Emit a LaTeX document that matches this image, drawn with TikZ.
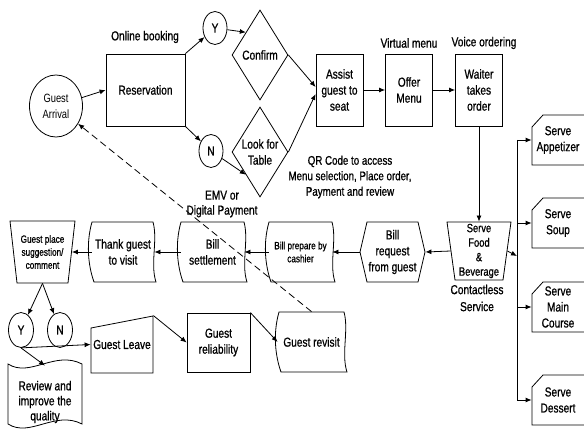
\documentclass[tikz,border=0pt]{standalone}
\usepackage{fontspec}
\setmainfont[FakeStretch=0.78,UprightFeatures={FakeBold=0.8}]{Liberation Sans}
\newfontfamily\thinfont[FakeStretch=0.78]{Liberation Sans}
\usetikzlibrary{arrows.meta,shapes.geometric,calc}
\newcommand\wavybox[4]{%
 \draw (#1,#2) -- (#3,#2) .. controls ({#3+5},{#2+0.3*(#4-#2)}) and ({#3-3},{#2+0.7*(#4-#2)}) .. ({#3+3},#4) -- ({#1+2},#4) .. controls ({#1-4},{#2+0.72*(#4-#2)}) and ({#1-6},{#2+0.35*(#4-#2)}) .. (#1,#2) -- cycle;}
\begin{document}
\begin{tikzpicture}[x=1pt,y=-1pt,line width=0.8pt,
  every node/.style={font=\fontsize{13}{16}\selectfont,align=center,inner sep=0pt},
  rbox/.style={draw,rectangle},
  yn/.style={draw,ellipse,minimum width=24,minimum height=33},
  small/.style={font=\fontsize{10.5}{13}\selectfont},
  arr/.style={-{Latex[length=6pt,width=5pt]}}]
\useasboundingbox (0,0) rectangle (584,435);
\fill[white] (0,0) rectangle (584,435);
% top row
\node[draw,ellipse,minimum width=53,minimum height=62,font=\thinfont\fontsize{12}{16}\selectfont] (arrival) at (56,106) {Guest\\Arrival};
\node[rbox,minimum width=79,minimum height=72] (res) at (145.5,90) {Reservation};
\node (online) at (145,37) {Online booking};
\node[yn] (y1) at (215,28) {Y};
\node[yn] (n1) at (211,151) {N};
\node[draw,diamond,minimum width=56,minimum height=90] (confirm) at (260,55) {};
\node (confirmtxt) at (260,55) {Confirm};
\node[draw,diamond,minimum width=56,minimum height=90] (look) at (260,152) {};
\node (looktxt) at (260,152) {Look for\\Table};
\node[rbox,minimum width=47,minimum height=72] (assist) at (339.5,90) {Assist\\guest to\\seat};
\node[rbox,minimum width=47,minimum height=72] (offer) at (409,90) {Offer\\Menu};
\node[rbox,minimum width=47,minimum height=72] (waiter) at (479,90) {Waiter\\takes\\order};
\node (vmenu) at (409,43) {Virtual menu};
\node (vorder) at (484,43) {Voice ordering};
\node[font=\fontsize{12.5}{15.5}\selectfont] (qr) at (350,177) {QR Code to access\\Menu selection, Place order,\\Payment and review};
% middle row
\draw (447,222) -- (511,222) -- (503,280) -- (455,280) -- cycle;
\node[minimum width=56,minimum height=58,font=\fontsize{12}{14.5}\selectfont] (food) at (479,251) {Serve\\Food\\\&\\Beverage};
\node[font=\fontsize{13}{17}\selectfont] (contact) at (477,298) {Contactless\\Service};
\draw (367,222) -- (418,222) -- (425,252) -- (418,282) -- (367,282) -- (360,252) -- cycle;
\node[minimum width=65,minimum height=60] (billreq) at (392.5,252) {Bill\\request\\from guest};
\wavybox{269}{222}{332}{282}
\node[small,minimum width=63,minimum height=60] (billprep) at (300.5,252) {Bill prepare by\\cashier};
\wavybox{181}{222}{244}{282}
\node[minimum width=63,minimum height=60] (billset) at (212.5,252) {Bill\\settlement};
\node[font=\fontsize{13}{15}\selectfont] (emv) at (222,204) {EMV or\\Digital Payment};
\wavybox{92}{222}{153}{282}
\node[minimum width=62,minimum height=60] (thank) at (123,252) {Thank guest\\to visit};
\draw (10,221) -- (75,221) -- (68,283) -- (17,283) -- cycle;
\node[small,minimum width=58,minimum height=62] (gplace) at (42.5,252) {Guest place\\suggestion/\\comment};
% bottom row
\node[yn,minimum width=25,minimum height=35] (y2) at (21,330) {Y};
\node[yn,minimum width=25,minimum height=35] (n2) at (60,330) {N};
\draw (91,328) -- (153,316) -- (153,373) -- (91,373) -- cycle;
\node[minimum width=62,minimum height=57] (leave) at (122,344.5) {Guest Leave};
\node[rbox,minimum width=63,minimum height=59] (rel) at (218.5,342.5) {Guest\\reliability};
\wavybox{279}{312}{344}{372}
\node[minimum width=67,minimum height=60] (revisit) at (311.5,342) {Guest revisit};
\draw (8,364) .. controls (30,378) and (55,350) .. (82,364) -- (82,424) .. controls (55,410) and (30,438) .. (8,424) -- cycle;
\node[minimum width=74,minimum height=72,font=\fontsize{13}{15}\selectfont] (review) at (45,402) {Review and\\improve the\\quality};
% serve boxes
\foreach \t/\b in {115/165,198/248,282/332,375/425}{
  \draw (584,\t) -- (543,\t) -- (532,{\t+12}) -- (532,\b) -- (584,\b);}
\node[minimum width=52,minimum height=50] (app) at (558,140) {Serve\\Appetizer};
\node[minimum width=52,minimum height=50] (soup) at (558,223) {Serve\\Soup};
\node[minimum width=52,minimum height=50] (main) at (558,307) {Serve\\Main\\Course};
\node[minimum width=52,minimum height=50] (dessert) at (558,400) {Serve\\Dessert};
\coordinate (va) at (517,140);
\coordinate (vb) at (517,223);
\coordinate (vc) at (517,307);
\coordinate (vd) at (517,400);
\coordinate (vj) at (517,256);
% connectors
\draw[arr] (arrival) -- (res.west);
\draw[arr] (res.north east) -- (y1);
\draw[arr] (res.south east) -- (n1);
\draw[arr] (y1) -- (confirm.north west);
\draw[arr] (n1) -- (look.south west);
\draw[arr] (confirm.east) -- ([yshift=3pt]assist.west);
\draw[arr] (look.east) -- ([yshift=-4pt]assist.west);
\draw[arr] (assist) -- (offer);
\draw[arr] (offer) -- (waiter);
\draw[arr] (waiter.south) -- (food.north);
\draw[arr] (food.west) -- (billreq.east);
\draw[arr] (billreq.west) -- (billprep.east);
\draw[arr] (billprep.west) -- (billset.east);
\draw[arr] (billset.west) -- (thank.east);
\draw[arr] (thank.west) -- (gplace.east);
\draw[arr] (gplace.south) -- (y2);
\draw[arr] (gplace.south) -- (n2);
\draw[arr] (y2.south) -- (leave.west);
\draw[arr] (y2.south) -- (review.north);
\draw[arr] (leave.north east) -- (rel.west);
\draw[arr] (rel.north east) -- (revisit.west);
\draw[arr,dash pattern=on 7pt off 4pt] (revisit.north) -- (arrival);
\draw[arr] (food.east) -- (vj);
\draw (va) -- (vd);
\draw[arr] (va) -- (app.west);
\draw[arr] (vb) -- (soup.west);
\draw[arr] (vc) -- (main.west);
\draw[arr] (vd) -- (dessert.west);
\end{tikzpicture}
\end{document}
